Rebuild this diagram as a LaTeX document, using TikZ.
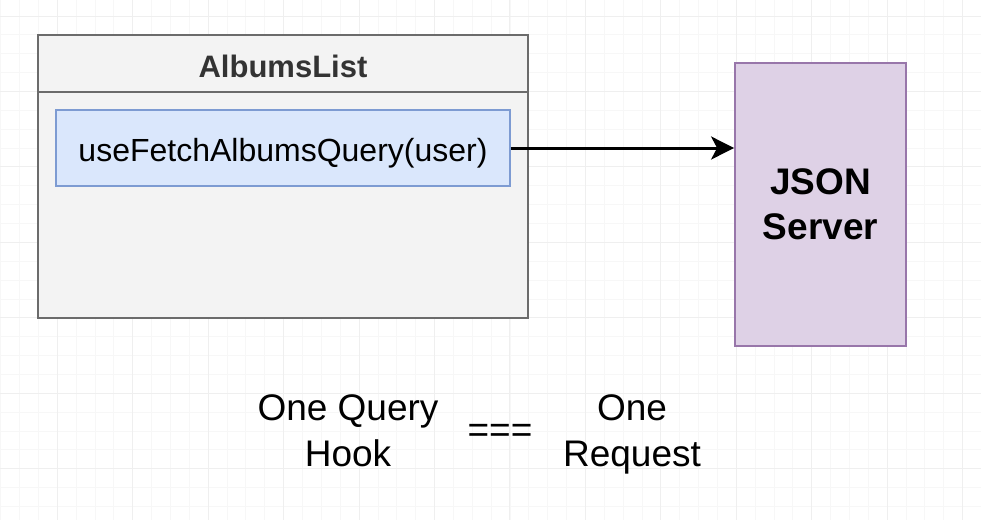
\documentclass[tikz,border=0pt]{standalone}
\usepackage{fontspec}
\setmainfont{Liberation Sans}
\usetikzlibrary{arrows.meta}
\definecolor{gridminor}{HTML}{F7F7F7}
\definecolor{gridmajor}{HTML}{EFEFEF}
\definecolor{outerfill}{HTML}{F3F3F3}
\definecolor{outerline}{HTML}{6B6B6B}
\definecolor{bluefill}{HTML}{DAE7FC}
\definecolor{blueline}{HTML}{7D9BD2}
\definecolor{purplefill}{HTML}{DED1E6}
\definecolor{purpleline}{HTML}{9876AA}
\definecolor{titletext}{HTML}{333333}
\tikzset{
  outerbox/.style={draw=outerline, fill=outerfill, line width=1.8pt, minimum width=490pt, minimum height=283pt, inner sep=0pt},
  hookbox/.style={draw=blueline, fill=bluefill, line width=1.5pt, minimum width=454pt, minimum height=76pt, inner sep=0pt},
  serverbox/.style={draw=purpleline, fill=purplefill, line width=1.8pt, minimum width=171pt, minimum height=283pt, inner sep=0pt, align=center, font=\fontsize{37}{45.5}\selectfont\bfseries},
  bigtext/.style={inner sep=0pt, align=center, font=\fontsize{37}{46}\selectfont},
  conn/.style={line width=3pt, -{Stealth[length=23pt,width=23pt,inset=6pt]}}
}
\begin{document}
\begin{tikzpicture}[x=1pt,y=-1pt]
\useasboundingbox (0,0) rectangle (981,520);
\fill[white] (0,0) rectangle (981,520);
% grid
\foreach \k in {0,...,52} {
  \draw[gridminor, line width=0.8pt] ({0.7+\k*18.86},0) -- ({0.7+\k*18.86},520);
}
\foreach \k in {1,...,28} {
  \draw[gridminor, line width=0.8pt] (0,{-2.86+\k*18.86}) -- (981,{-2.86+\k*18.86});
}
\foreach \k in {0,...,12} {
  \draw[gridmajor, line width=1pt] ({57.28+\k*75.44},0) -- ({57.28+\k*75.44},520);
}
\foreach \k in {0,...,6} {
  \draw[gridmajor, line width=1pt] (0,{16+\k*75.44}) -- (981,{16+\k*75.44});
}
% AlbumsList component
\node[outerbox] (list) at (283,176.5) {};
\draw[outerline, line width=1.8pt] (list.west |- 0,92) coordinate (hl) -- (list.east |- 0,92) coordinate (hr);
\node[anchor=base, inner sep=0pt, text=titletext, font=\fontsize{31}{37}\selectfont\bfseries] (title) at (283,77) {AlbumsList};
\node[hookbox] (hook) at (283,148) {};
\node[anchor=base, inner sep=0pt, font=\fontsize{32}{38}\selectfont] (hooktext) at (283,161) {useFetchAlbumsQuery(user)};
% server
\node[serverbox] (server) at (820.5,204.5) {JSON\\Server};
% connector
\draw[conn] (hook.east) -- (server.west |- hook.east);
% bottom statement
\node[bigtext] (lhs) at (348,434) {\strut One Query\\\strut Hook};
\node[inner sep=0pt, font=\fontsize{37}{46}\selectfont] (eq) at (500,433) {===};
\node[bigtext] (rhs) at (632,434) {\strut One\\\strut Request};
\end{tikzpicture}
\end{document}
